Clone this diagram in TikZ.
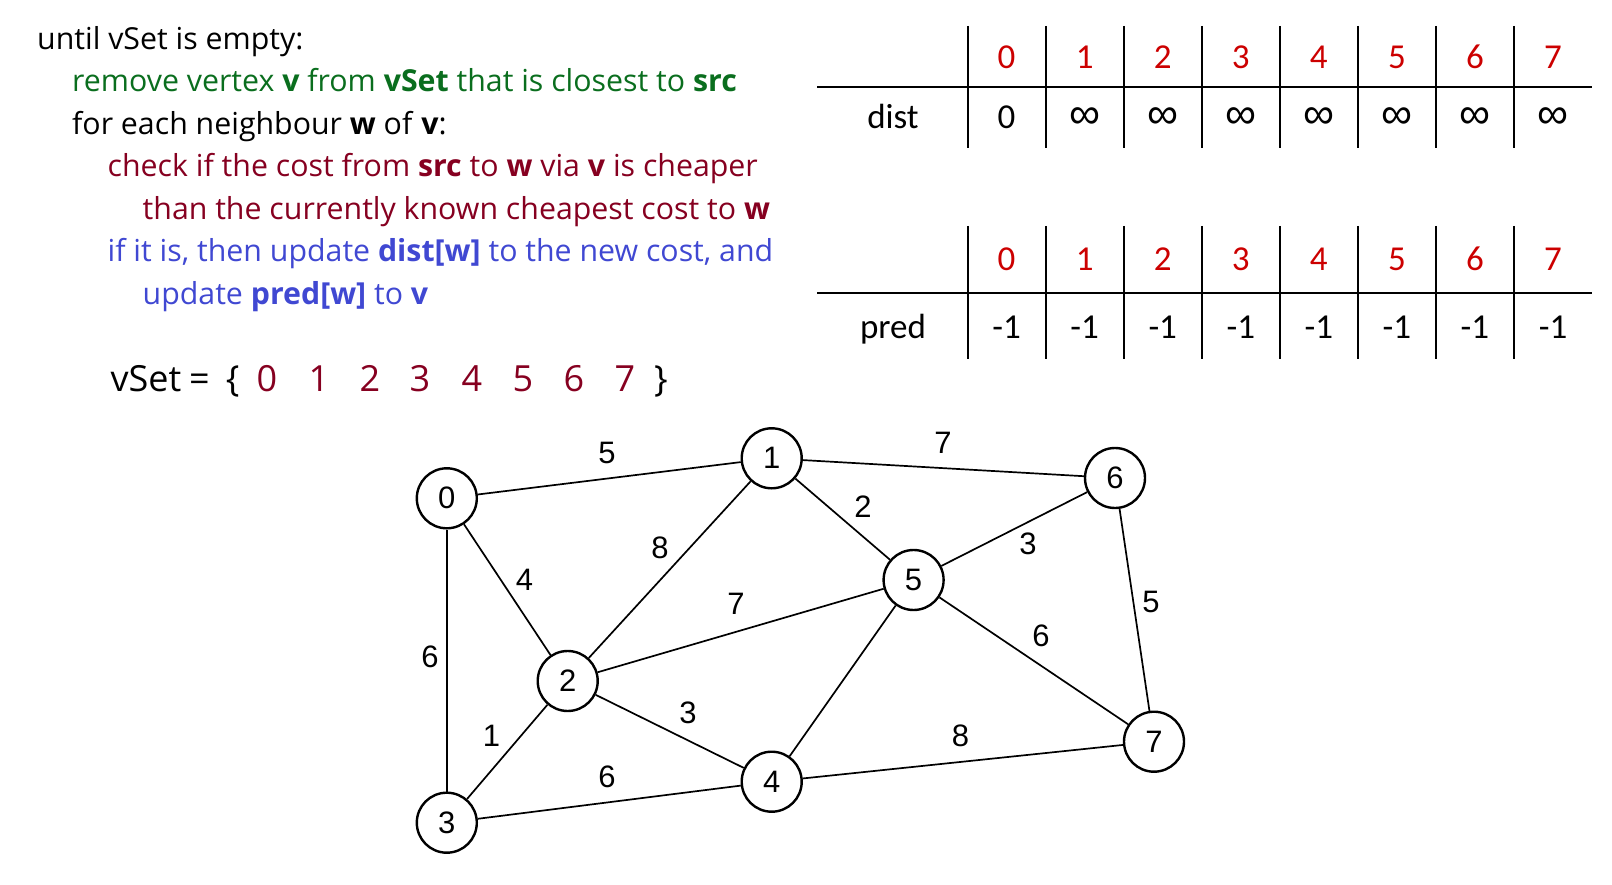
\documentclass[tikz,border=0pt]{standalone}
\usepackage{graphicx}
\usepackage{fontspec}
\setmainfont{Open Sans}
\newfontfamily\tabfont{Carlito}
\newfontfamily\graphfont{Liberation Sans}
\definecolor{cgreen}{RGB}{10,110,30}
\definecolor{cred}{RGB}{134,0,32}
\definecolor{cblue}{RGB}{64,72,210}
\definecolor{tred}{RGB}{204,0,0}
\begin{document}
\begin{tikzpicture}[x=1pt,y=-1pt,
  code/.style={anchor=base west,inner sep=0pt,font=\fontsize{30.3}{36}\selectfont},
  vsf/.style={anchor=base,inner sep=0pt,font=\fontsize{36}{40}\selectfont},
  tab/.style={anchor=base,inner sep=0pt,font=\tabfont\fontsize{35}{40}\selectfont},
  tline/.style={line width=2pt},
  vert/.style={circle,draw,line width=2.4pt,minimum size=60pt,inner sep=0pt,font=\graphfont\fontsize{31}{36}\selectfont},
  elab/.style={inner sep=0pt,font=\graphfont\fontsize{31}{36}\selectfont},
  edge/.style={line width=1.7pt}]
\useasboundingbox (0,0) rectangle (1612,885);
% pseudo-code
\node[code] (l1) at (37,50) {until vSet is empty:};
\node[code,text=cgreen] (l2) at (72,92) {remove vertex \textbf{v} from \textbf{vSet} that is closest to \textbf{src}};
\node[code] (l3) at (72,135) {for each neighbour \textbf{w} of \textbf{v}:};
\node[code,text=cred] (l4) at (107.5,177) {check if the cost from \textbf{src} to \textbf{w} via \textbf{v} is cheaper};
\node[code,text=cred] (l5) at (142.5,220) {than the currently known cheapest cost to \textbf{w}};
\node[code,text=cblue] (l6) at (107.5,262) {if it is, then update \textbf{dist[w]} to the new cost, and};
\node[code,text=cblue] (l7) at (142.5,305) {update \textbf{pred[w]} to \textbf{v}};
% vSet
\node[vsf,anchor=base west] (vs) at (110.4,391.3) {vSet};
\node[vsf] (vseq) at (199.3,391.3) {=};
\node[vsf] (vsbr) at (232.8,391.3) {\{};
\foreach \d/\x in {0/267,1/319,2/370,3/420,4/472,5/523,6/574,7/625}
  \node[vsf,text=cred] (vs\d) at (\x,391.3) {\d};
\node[vsf] (vsend) at (661,391.3) {\}};
% tables
\draw[line width=2.4pt] (817,87) -- (1592,87);
\draw[line width=2.4pt] (817,293) -- (1592,293);
\foreach \i in {0,...,7}{
  \pgfmathsetmacro{\vx}{967.6+78.06*\i}
  \pgfmathsetmacro{\cx}{1006.6+78.06*\i}
  \draw[tline] (\vx,26) -- (\vx,148);
  \draw[tline] (\vx,226) -- (\vx,359);
  \node[tab,text=tred] (dh\i) at (\cx,68.5) {\i};
  \node[tab,text=tred] (ph\i) at (\cx,271) {\i};
  \node[tab] (pv\i) at (\cx,339) {-1};
}
\node[tab] (dlab) at (893,129) {dist};
\node[tab] (plab) at (893,339) {pred};
\node[tab] (dv0) at (1006.6,129) {0};
\foreach \i in {1,...,7}{
  \pgfmathsetmacro{\cx}{1006.6+78.06*\i}
  \node[anchor=center,inner sep=0pt] (dv\i) at (\cx,118.5) {\resizebox{31pt}{!}{\graphfont ∞}};
}
% graph
\node[vert] (n0) at (446.8,498.3) {0};
\node[vert] (n1) at (771.7,458.3) {1};
\node[vert] (n6) at (1115,478) {6};
\node[vert] (n5) at (913.6,580) {5};
\node[vert] (n2) at (567.7,681) {2};
\node[vert] (n7) at (1154,741.7) {7};
\node[vert] (n4) at (771.7,781.7) {4};
\node[vert] (n3) at (446.8,822.7) {3};
\foreach \a/\b in {0/1,0/2,0/3,1/2,1/5,1/6,2/3,2/4,2/5,3/4,4/5,4/7,5/6,5/7,6/7}
  \draw[edge] (n\a) -- (n\b);
\node[elab] (w01) at (607,453) {5};
\node[elab] (w16) at (943,443) {7};
\node[elab] (w15) at (863,507) {2};
\node[elab] (w56) at (1028,544) {3};
\node[elab] (w02) at (524.6,580) {4};
\node[elab] (w12) at (660,548) {8};
\node[elab] (w25) at (736,604) {7};
\node[elab] (w03) at (430,657) {6};
\node[elab] (w57) at (1041,636) {6};
\node[elab] (w67) at (1151,601.7) {5};
\node[elab] (w24) at (688,713) {3};
\node[elab] (w23) at (491.5,736) {1};
\node[elab] (w47) at (960.5,736) {8};
\node[elab] (w34) at (607,776.7) {6};
\end{tikzpicture}
\end{document}
